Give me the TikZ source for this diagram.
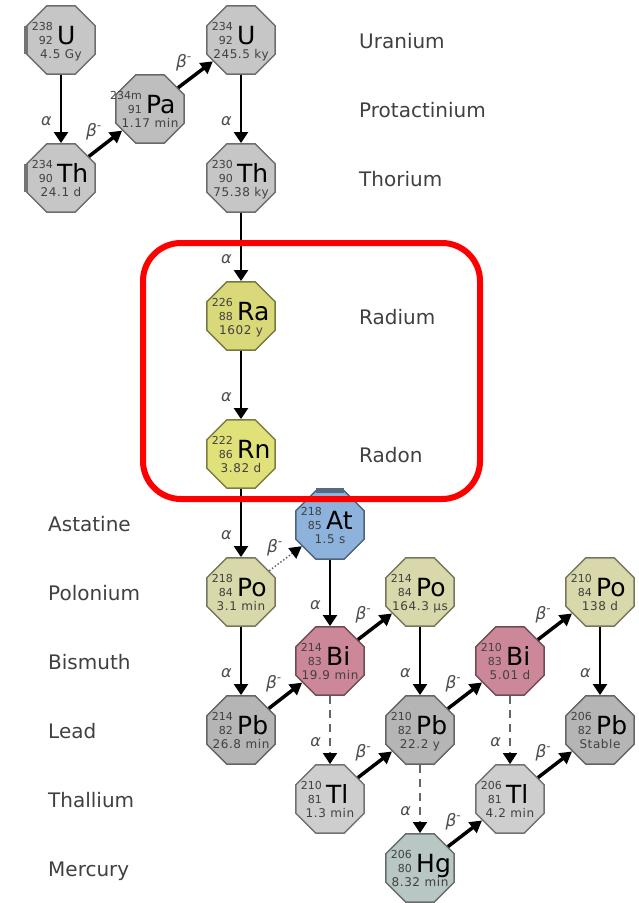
\documentclass[tikz,border=0pt]{standalone}
\usepackage{fontspec}
\setmainfont{DejaVu Sans}
\usetikzlibrary{shapes.geometric}
\usetikzlibrary{arrows.meta}
\definecolor{UGrey}{HTML}{C6C6C6}
\definecolor{PaGrey}{HTML}{BEBEBE}
\definecolor{PbGrey}{HTML}{B5B5B5}
\definecolor{TlGrey}{HTML}{CECECE}
\definecolor{RaYellow}{HTML}{D9D97A}
\definecolor{RnYellow}{HTML}{E1E17A}
\definecolor{PoKhaki}{HTML}{D8D8AA}
\definecolor{AtBlue}{HTML}{8DB2DC}
\definecolor{BiPink}{HTML}{CC8899}
\definecolor{HgTeal}{HTML}{B8C6C4}
\definecolor{LabelGrey}{HTML}{404040}

\begin{document}
\begin{tikzpicture}[x=1pt, y=-1pt,
  nuc/.style={regular polygon, regular polygon sides=8, minimum size=74pt,
    inner sep=0pt, line width=1.5pt},
  nucnum/.style={inner sep=0pt, text=LabelGrey, font=\fontsize{11}{11}\selectfont},
  nucsym/.style={inner sep=0pt, font=\fontsize{25}{25}\selectfont},
  nuclife/.style={inner sep=0pt, text=LabelGrey,
    font=\fontsize{12}{12}\selectfont\addfontfeature{LetterSpace=5}},
  elemname/.style={anchor=base west, inner sep=0pt, text=LabelGrey,
    font=\fontsize{20}{24}\selectfont},
  alphaArrow/.style={line width=2.5pt, -{Triangle[width=14pt,length=11pt]}},
  alphaMinor/.style={line width=2pt, black!60, dash pattern=on 8pt off 6pt,
    -{Triangle[width=14pt,length=11pt,color=black]}},
  betaArrow/.style={line width=3.5pt, -{Triangle[width=13pt,length=12pt]}},
  betaMinor/.style={line width=1.5pt, black!60, dotted,
    -{Triangle[width=13pt,length=12pt,color=black]}},
  alab/.style={pos=0.68, left=8pt, inner sep=0pt, text=black!70,
    font=\fontsize{16}{16}\selectfont\itshape},
  blab/.style={midway, above left=2pt, inner sep=0pt, text=black!70,
    font=\fontsize{17}{17}\selectfont\itshape}]

  \useasboundingbox (0,0) rectangle (638,903);

  % nuclides
  \foreach \nm/\x/\y/\A/\Z/\el/\life/\col in {%
    U238/61/40/238/92/U/4.5 Gy/UGrey,
    Th234/61/178/234/90/Th/24.1 d/UGrey,
    Pa234/150/109/234m/91/Pa/1.17 min/PaGrey,
    U234/241/40/234/92/U/245.5 ky/UGrey,
    Th230/241/178/230/90/Th/75.38 ky/UGrey,
    Ra226/241/316/226/88/Ra/1602 y/RaYellow,
    Rn222/241/454/222/86/Rn/3.82 d/RnYellow,
    At218/330/525/218/85/At/1.5 s/AtBlue,
    Po218/241/592/218/84/Po/3.1 min/PoKhaki,
    Bi214/330/661/214/83/Bi/19.9 min/BiPink,
    Po214/420/592/214/84/Po/164.3 µs/PoKhaki,
    Bi210/510/661/210/83/Bi/5.01 d/BiPink,
    Po210/600/592/210/84/Po/138 d/PoKhaki,
    Pb214/241/730/214/82/Pb/26.8 min/PbGrey,
    Pb210/420/730/210/82/Pb/22.2 y/PbGrey,
    Pb206/600/730/206/82/Pb/Stable/PbGrey,
    Tl210/330/799/210/81/Tl/1.3 min/TlGrey,
    Tl206/510/799/206/81/Tl/4.2 min/TlGrey,
    Hg206/420/868/206/80/Hg/8.32 min/HgTeal}{%
    \node[nuc, fill=\col, draw=\col!55!black] (\nm) at (\x,\y) {};
    \node[nucnum, anchor=base east] (\nm-A) at ([shift={(-8,-10)}]\nm.center) {\A};
    \node[nucnum, anchor=base east] (\nm-Z) at ([shift={(-8,4)}]\nm.center) {\Z};
    \node[nucsym, anchor=base west] (\nm-S) at ([shift={(-4,4)}]\nm.center) {\el};
    \node[nuclife, anchor=base] (\nm-T) at ([shift={(0,18)}]\nm.center) {\life};
  }

  % darker edges
  \draw[line width=4pt, black!55] ([yshift=-14pt]U238.west) -- ([yshift=14pt]U238.west);
  \draw[line width=4pt, black!55] ([yshift=-14pt]Th234.west) -- ([yshift=14pt]Th234.west);
  \draw[line width=5pt, AtBlue!60!black] ([xshift=-14pt]At218.north) -- ([xshift=14pt]At218.north);

  % element names
  \foreach \nm/\x/\y/\txt in {%
    uranium/359/40/Uranium, protactinium/359/109/Protactinium,
    thorium/359/178/Thorium, radium/359/316/Radium, radon/359/454/Radon,
    astatine/48/523/Astatine, polonium/48/592/Polonium,
    bismuth/48/661/Bismuth, lead/48/730/Lead,
    thallium/48/799/Thallium, mercury/48/868/Mercury}{%
    \node[elemname] (\nm) at (\x,\y+8) {\txt};
  }

  % alpha decays
  \foreach \a/\b in {U238/Th234, U234/Th230, Th230/Ra226, Ra226/Rn222,
    Rn222/Po218, Po218/Pb214, At218/Bi214, Po214/Pb210, Po210/Pb206}{%
    \draw[alphaArrow] (\a) -- node[alab] {α} (\b);
  }
  \foreach \a/\b in {Bi214/Tl210, Bi210/Tl206, Pb210/Hg206}{%
    \draw[alphaMinor] (\a) -- node[alab] {α} (\b);
  }

  % beta decays
  \foreach \a/\b in {Th234/Pa234, Pa234/U234, Pb214/Bi214, Bi214/Po214,
    Pb210/Bi210, Bi210/Po210, Tl210/Pb210, Tl206/Pb206, Hg206/Tl206}{%
    \draw[betaArrow] (\a) -- node[blab] {β\textsuperscript{-}} (\b);
  }
  \draw[betaMinor] (Po218) -- node[blab] {β\textsuperscript{-}} (At218);

  % highlight
  \draw[red, line width=6pt, rounded corners=38pt] (143,243) rectangle (480,499);
\end{tikzpicture}
\end{document}
